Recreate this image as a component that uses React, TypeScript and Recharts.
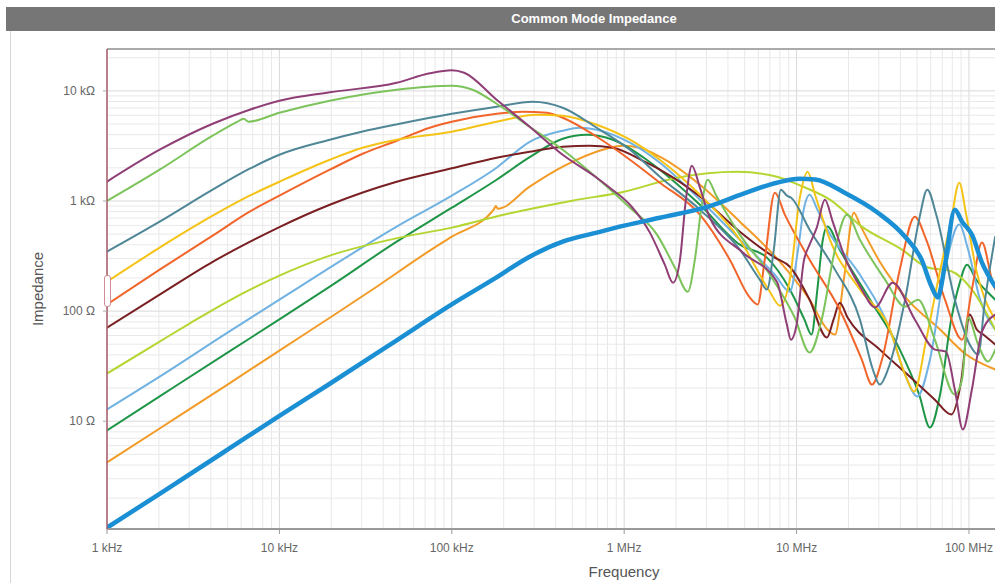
import React from 'react';
import { LineChart, Line, XAxis, YAxis, ReferenceLine } from 'recharts';

// Frequency (Hz) / impedance (Ohm) pairs
const purple: [number, number][] = [[1e3,1500],[2.02e3,2920],[4.1e3,5030],[6.72e3,6740],[1e4,8130],[1.96e4,9710],[4.79e4,11840],[7.45e4,14450],[1e5,15400],[1.18e5,14600],[1.82e5,8300],[2.83e5,4720],[4.4e5,2630],[6.93e5,1627],[8.25e5,1321],[1.08e6,925],[1.41e6,516],[1.72e6,264],[1.92e6,181],[2.1e6,281],[2.28e6,1028],[2.47e6,2090],[2.75e6,1321],[3.14e6,705],[4.88e6,340],[7.69e6,185],[8.79e6,75],[9.27e6,55],[1e7,75],[1.1e7,281],[1.19e7,401],[1.31e7,573],[1.46e7,1028],[1.62e7,649],[1.9e7,312],[2.39e7,157],[2.85e7,108],[3.61e7,181],[4.85e7,84],[6.34e7,44.7],[7.35e7,42.9],[8.28e7,19.4],[9.22e7,8.4],[1.04e8,19.4],[1.19e8,65.2],[1.42e8,93]];
const lightGreen: [number, number][] = [[1e3,1000],[2.02e3,1923],[4.1e3,3915],[5.72e3,5250],[6.19e3,5580],[6.63e3,5250],[1e4,6330],[1.96e4,8130],[4.79e4,10230],[1e5,11130],[1.32e5,10230],[1.82e5,7640],[2.83e5,4720],[4.4e5,2920],[6.93e5,1627],[1.08e6,869],[1.55e6,495],[1.97e6,248],[2.34e6,150],[2.57e6,293],[2.82e6,925],[3.05e6,1560],[3.4e6,1140],[4.69e6,495],[7e6,214],[9.77e6,87],[1.19e7,42],[1.4e7,84],[1.67e7,361],[1.96e7,751],[2.33e7,445],[3.26e7,193],[4.26e7,110],[5.07e7,127],[6.34e7,55],[8.28e7,17.5],[9.12e7,23.9],[9.89e7,87],[1.13e8,49.7],[1.29e8,34.8],[1.42e8,44.7]];
const teal: [number, number][] = [[1e3,347],[2.02e3,649],[4.1e3,1268],[6.72e3,1963],[1e4,2630],[1.96e4,3600],[3e4,4255],[4.98e4,5030],[1e5,6200],[1.82e5,7180],[2.95e5,7960],[4.4e5,7030],[6.93e5,4625],[1.08e6,2920],[1.61e6,1663],[2.75e6,834],[4.69e6,361],[6.12e6,193],[6.73e6,157],[7.38e6,361],[8.11e6,1268],[8.79e6,1117],[9.3e6,1070],[1.19e7,549],[1.67e7,238],[2.33e7,84],[2.77e7,29.5],[3.04e7,21.5],[3.39e7,29.5],[4.26e7,127],[5.14e7,677],[5.73e7,1268],[6.46e7,751],[8.28e7,127],[1.01e8,49.7],[1.13e8,40.3],[1.24e8,127],[1.42e8,474]];
const yellow: [number, number][] = [[1e3,185],[2.02e3,377],[4.1e3,735],[6.72e3,1117],[1e4,1496],[1.96e4,2370],[3.04e4,3045],[4.79e4,3600],[1e5,4255],[1.82e5,5250],[3.11e5,6070],[4.4e5,5940],[6.93e5,4925],[1.08e6,3600],[1.61e6,2370],[2.75e6,1140],[4.69e6,445],[7e6,150],[8e6,112],[9.14e6,193],[1.04e7,1028],[1.16e7,1845],[1.28e7,1140],[1.56e7,445],[2.33e7,157],[3.48e7,68],[4.26e7,26.5],[4.81e7,18.6],[5.65e7,55],[6.72e7,214],[7.89e7,677],[8.78e7,1466],[9.64e7,751],[1.1e8,238],[1.24e8,127],[1.42e8,84]];
const orangeRed: [number, number][] = [[1e3,115],[2.02e3,238],[4.1e3,484],[6.72e3,800],[1e4,1117],[1.96e4,1923],[3.04e4,2687],[4.79e4,3525],[7.45e4,4625],[1e5,5250],[1.82e5,6200],[2.58e5,6460],[3.56e5,6330],[4.4e5,5700],[6.93e5,3830],[1.08e6,2370],[1.61e6,1466],[2.75e6,751],[4.1e6,293],[5.35e6,133],[5.95e6,115],[6.54e6,293],[7.48e6,1189],[8.55e6,751],[1.19e7,293],[1.78e7,103],[2.39e7,36.3],[2.74e7,21.5],[3.13e7,36.3],[3.97e7,238],[4.85e7,721],[5.65e7,445],[7.26e7,127],[9.12e7,55],[1.04e8,157],[1.19e8,419],[1.36e8,193],[1.42e8,157]];
const maroon: [number, number][] = [[1e3,70.8],[2.02e3,141],[4.1e3,280],[6.72e3,425],[1e4,580],[1.96e4,925],[4.79e4,1496],[1e5,1980],[1.82e5,2472],[2.83e5,2800],[4.4e5,3110],[6.31e5,3175],[8.59e5,3045],[1.35e6,2226],[1.61e6,1923],[2.75e6,1098],[4.69e6,526],[7.48e6,306],[9.14e6,253],[1.19e7,127],[1.5e7,57.5],[1.64e7,84],[1.78e7,119],[1.98e7,87],[3.04e7,44.7],[4.4e7,26.5],[6.34e7,15.7],[7.89e7,11.5],[9.04e7,23.9],[1.01e8,93],[1.11e8,68],[1.21e8,61.2],[1.42e8,49.7]];
const yellowGreen: [number, number][] = [[1e3,27.1],[2.02e3,52.9],[3.01e3,77],[5e3,122],[1e4,210],[1.96e4,319],[4.98e4,465],[1e5,573],[2e5,751],[5e5,1007],[1e6,1214],[2.02e6,1627],[4.5e6,1845],[7.69e6,1663],[1.09e7,1349],[1.56e7,1028],[2.39e7,585],[4.09e7,361],[5.73e7,250],[7.9e7,230],[1.04e8,157],[1.42e8,68]];
const lightBlue: [number, number][] = [[1e3,12.8],[2.02e3,25.4],[5e3,63.8],[1e4,127],[1.96e4,248],[4.79e4,585],[1e5,1117],[1.82e5,2005],[2.83e5,3450],[4.4e5,4345],[5.52e5,4625],[6.93e5,4440],[1.08e6,3380],[1.61e6,2226],[2.75e6,1028],[4.69e6,445],[7.48e6,214],[9.14e6,150],[1.02e7,361],[1.1e7,834],[1.19e7,1140],[1.32e7,834],[1.51e7,549],[2.33e7,214],[3.48e7,68],[4.26e7,26.5],[5.01e7,16.8],[5.94e7,36.3],[7.26e7,238],[8.78e7,610],[9.89e7,361],[1.16e8,127],[1.42e8,68]];
const green: [number, number][] = [[1e3,8.24],[2.02e3,16.8],[5e3,42],[1e4,84],[1.96e4,167],[4.79e4,427],[1e5,869],[1.82e5,1560],[2.83e5,2500],[4.4e5,3675],[6.07e5,4000],[8.59e5,3600],[1.35e6,2370],[1.61e6,1923],[2.75e6,925],[4.69e6,401],[6.73e6,306],[9.14e6,157],[1.11e7,84],[1.22e7,61.2],[1.32e7,157],[1.42e7,445],[1.51e7,585],[1.78e7,361],[2.67e7,127],[3.97e7,44.7],[5.14e7,17.5],[5.94e7,8.77],[6.8e7,17.5],[7.89e7,84],[8.78e7,174],[9.75e7,264],[1.1e8,193],[1.24e8,157],[1.42e8,127]];
const orange: [number, number][] = [[1e3,4.22],[2.02e3,8.59],[5e3,21.5],[1e4,43.8],[1.96e4,87],[3.47e4,157],[7.45e4,354],[1e5,474],[1.75e5,834],[1.8e5,900],[1.85e5,850],[2.83e5,1349],[4.4e5,2047],[7.51e5,2920],[9.81e5,3175],[1.23e6,3045],[1.61e6,2523],[2.75e6,1406],[4.69e6,649],[8e6,281],[1.19e7,127],[1.51e7,68],[1.67e7,61.2],[1.88e7,193],[2.15e7,783],[2.33e7,610],[3.04e7,281],[4.4e7,127],[6.8e7,68],[9.64e7,40.3],[1.42e8,29.5]];
const blue: [number, number][] = [[1e3,1.08],[2.02e3,2.19],[5e3,5.51],[1e4,11.2],[1.96e4,21.9],[4.79e4,54.3],[1e5,115],[1.73e5,193],[2.83e5,312],[4.4e5,427],[6.93e5,516],[1e6,597],[1.61e6,705],[3.14e6,900],[4.88e6,1160],[7.69e6,1466],[1.04e7,1592],[1.28e7,1570],[1.9e7,1189],[2.96e7,783],[4.26e7,474],[5.31e7,293],[6.07e7,167],[6.58e7,133],[7.26e7,264],[8.28e7,834],[9.12e7,649],[1.04e8,495],[1.19e8,275],[1.42e8,167]];

const xTicks = [1e3, 1e4, 1e5, 1e6, 1e7, 1e8];
const xTickLabels = ['1 kHz', '10 kHz', '100 kHz', '1 MHz', '10 MHz', '100 MHz'];
const yTicks = [10, 100, 1000, 10000];
const yTickLabels = ['10 Ω', '100 Ω', '1 kΩ', '10 kΩ'];
const X_MIN = 1e3;
const X_MAX = 1.416e8;
const Y_MIN = 1.05;
const Y_MAX = 24000;
const gridMultipliers = [1, 2, 3, 4, 5, 6, 7, 8, 9];
const xDecades = [1e3, 1e4, 1e5, 1e6, 1e7, 1e8];
const yDecades = [1, 10, 100, 1000, 10000];

const series = [
  { name: 'orange', data: orange, color: '#f29b26', width: 2 },
  { name: 'green', data: green, color: '#1f9548', width: 2 },
  { name: 'lightBlue', data: lightBlue, color: '#70b2e2', width: 2 },
  { name: 'yellowGreen', data: yellowGreen, color: '#b5d531', width: 2 },
  { name: 'maroon', data: maroon, color: '#7a1f22', width: 2 },
  { name: 'orangeRed', data: orangeRed, color: '#f1652a', width: 2 },
  { name: 'yellow', data: yellow, color: '#f5c316', width: 2 },
  { name: 'teal', data: teal, color: '#4f8797', width: 2 },
  { name: 'lightGreen', data: lightGreen, color: '#7dc35b', width: 2 },
  { name: 'purple', data: purple, color: '#8f3e76', width: 2 },
  { name: 'blue', data: blue, color: '#1b8fd4', width: 4.5 },
];

const gridX: { v: number; major: boolean }[] = [];
xDecades.forEach((d) => gridMultipliers.forEach((m) => {
  const v = d * m;
  if (v >= X_MIN && v <= X_MAX) gridX.push({ v, major: m === 1 });
}));
const gridY: { v: number; major: boolean }[] = [];
yDecades.forEach((d) => gridMultipliers.forEach((m) => {
  const v = d * m;
  if (v >= Y_MIN && v <= Y_MAX) gridY.push({ v, major: m === 1 });
}));

const font = '"Liberation Sans", Arial, sans-serif';

export default function App() {
  return (
    <div style={{ position: 'absolute', left: 0, top: 0, width: 995, height: 583, overflow: 'hidden', background: '#fff', fontFamily: font }}>
      <div style={{ position: 'absolute', left: 6, top: 7, width: 989, height: 24, background: '#767676' }} />
      <div style={{ position: 'absolute', left: 394, top: 7, width: 400, height: 24, lineHeight: '24px', textAlign: 'center', color: '#fff', fontWeight: 'bold', fontSize: 13 }}>Common Mode Impedance</div>
      <div style={{ position: 'absolute', left: 10, top: 31, width: 1, height: 552, background: '#d6d6d6' }} />
      <div style={{ position: 'absolute', left: 0, top: 0 }}>
        <LineChart width={995} height={583} margin={{ top: 49, right: 0, bottom: 0, left: 0 }}>
          <XAxis
            dataKey="f"
            type="number"
            scale="log"
            domain={[X_MIN, X_MAX]}
            allowDataOverflow
            ticks={xTicks}
            tickFormatter={(v: number) => xTickLabels[xTicks.indexOf(v)] ?? ''}
            height={54}
            tickSize={5}
            tickMargin={9}
            tick={{ fill: '#666', fontSize: 12, fontFamily: font }}
            tickLine={{ stroke: '#999' }}
            axisLine={{ stroke: '#999', strokeWidth: 2 }}
          />
          <YAxis
            type="number"
            scale="log"
            domain={[Y_MIN, Y_MAX]}
            allowDataOverflow
            ticks={yTicks}
            tickFormatter={(v: number) => yTickLabels[yTicks.indexOf(v)] ?? ''}
            width={107}
            tickSize={4}
            tickMargin={8}
            tick={{ fill: '#666', fontSize: 12, fontFamily: font }}
            tickLine={{ stroke: '#aaa' }}
            axisLine={{ stroke: '#a85c6c', strokeWidth: 1.5 }}
          />
          {gridX.map((g) => (
            <ReferenceLine key={'gx' + g.v} x={g.v} stroke={g.major ? '#d9d9d9' : '#e9e9e9'} strokeWidth={1} zIndex={-100} />
          ))}
          {gridY.map((g) => (
            <ReferenceLine key={'gy' + g.v} y={g.v} stroke={g.major ? '#d9d9d9' : '#e9e9e9'} strokeWidth={1} zIndex={-100} />
          ))}
          <ReferenceLine y={Y_MAX} stroke="#aaa" strokeWidth={2} />
          {series.map((s) => (
            <Line
              key={s.name}
              data={s.data.map(([f, z]) => ({ f, z }))}
              dataKey="z"
              type="monotone"
              stroke={s.color}
              strokeWidth={s.width}
              dot={false}
              activeDot={false}
              isAnimationActive={false}
              strokeLinejoin="round"
              strokeLinecap="round"
            />
          ))}
        </LineChart>
      </div>
      <div style={{ position: 'absolute', left: 104, top: 275, width: 5, height: 30, border: '1px solid #d08c98', borderRadius: 3, background: '#fff' }} />
      <div style={{ position: 'absolute', left: 524, top: 562, width: 200, height: 20, lineHeight: '20px', textAlign: 'center', color: '#555', fontSize: 15 }}>Frequency</div>
      <div style={{ position: 'absolute', left: -62, top: 279, width: 200, height: 20, lineHeight: '20px', textAlign: 'center', color: '#555', fontSize: 15, transform: 'rotate(-90deg)' }}>Impedance</div>
    </div>
  );
}
